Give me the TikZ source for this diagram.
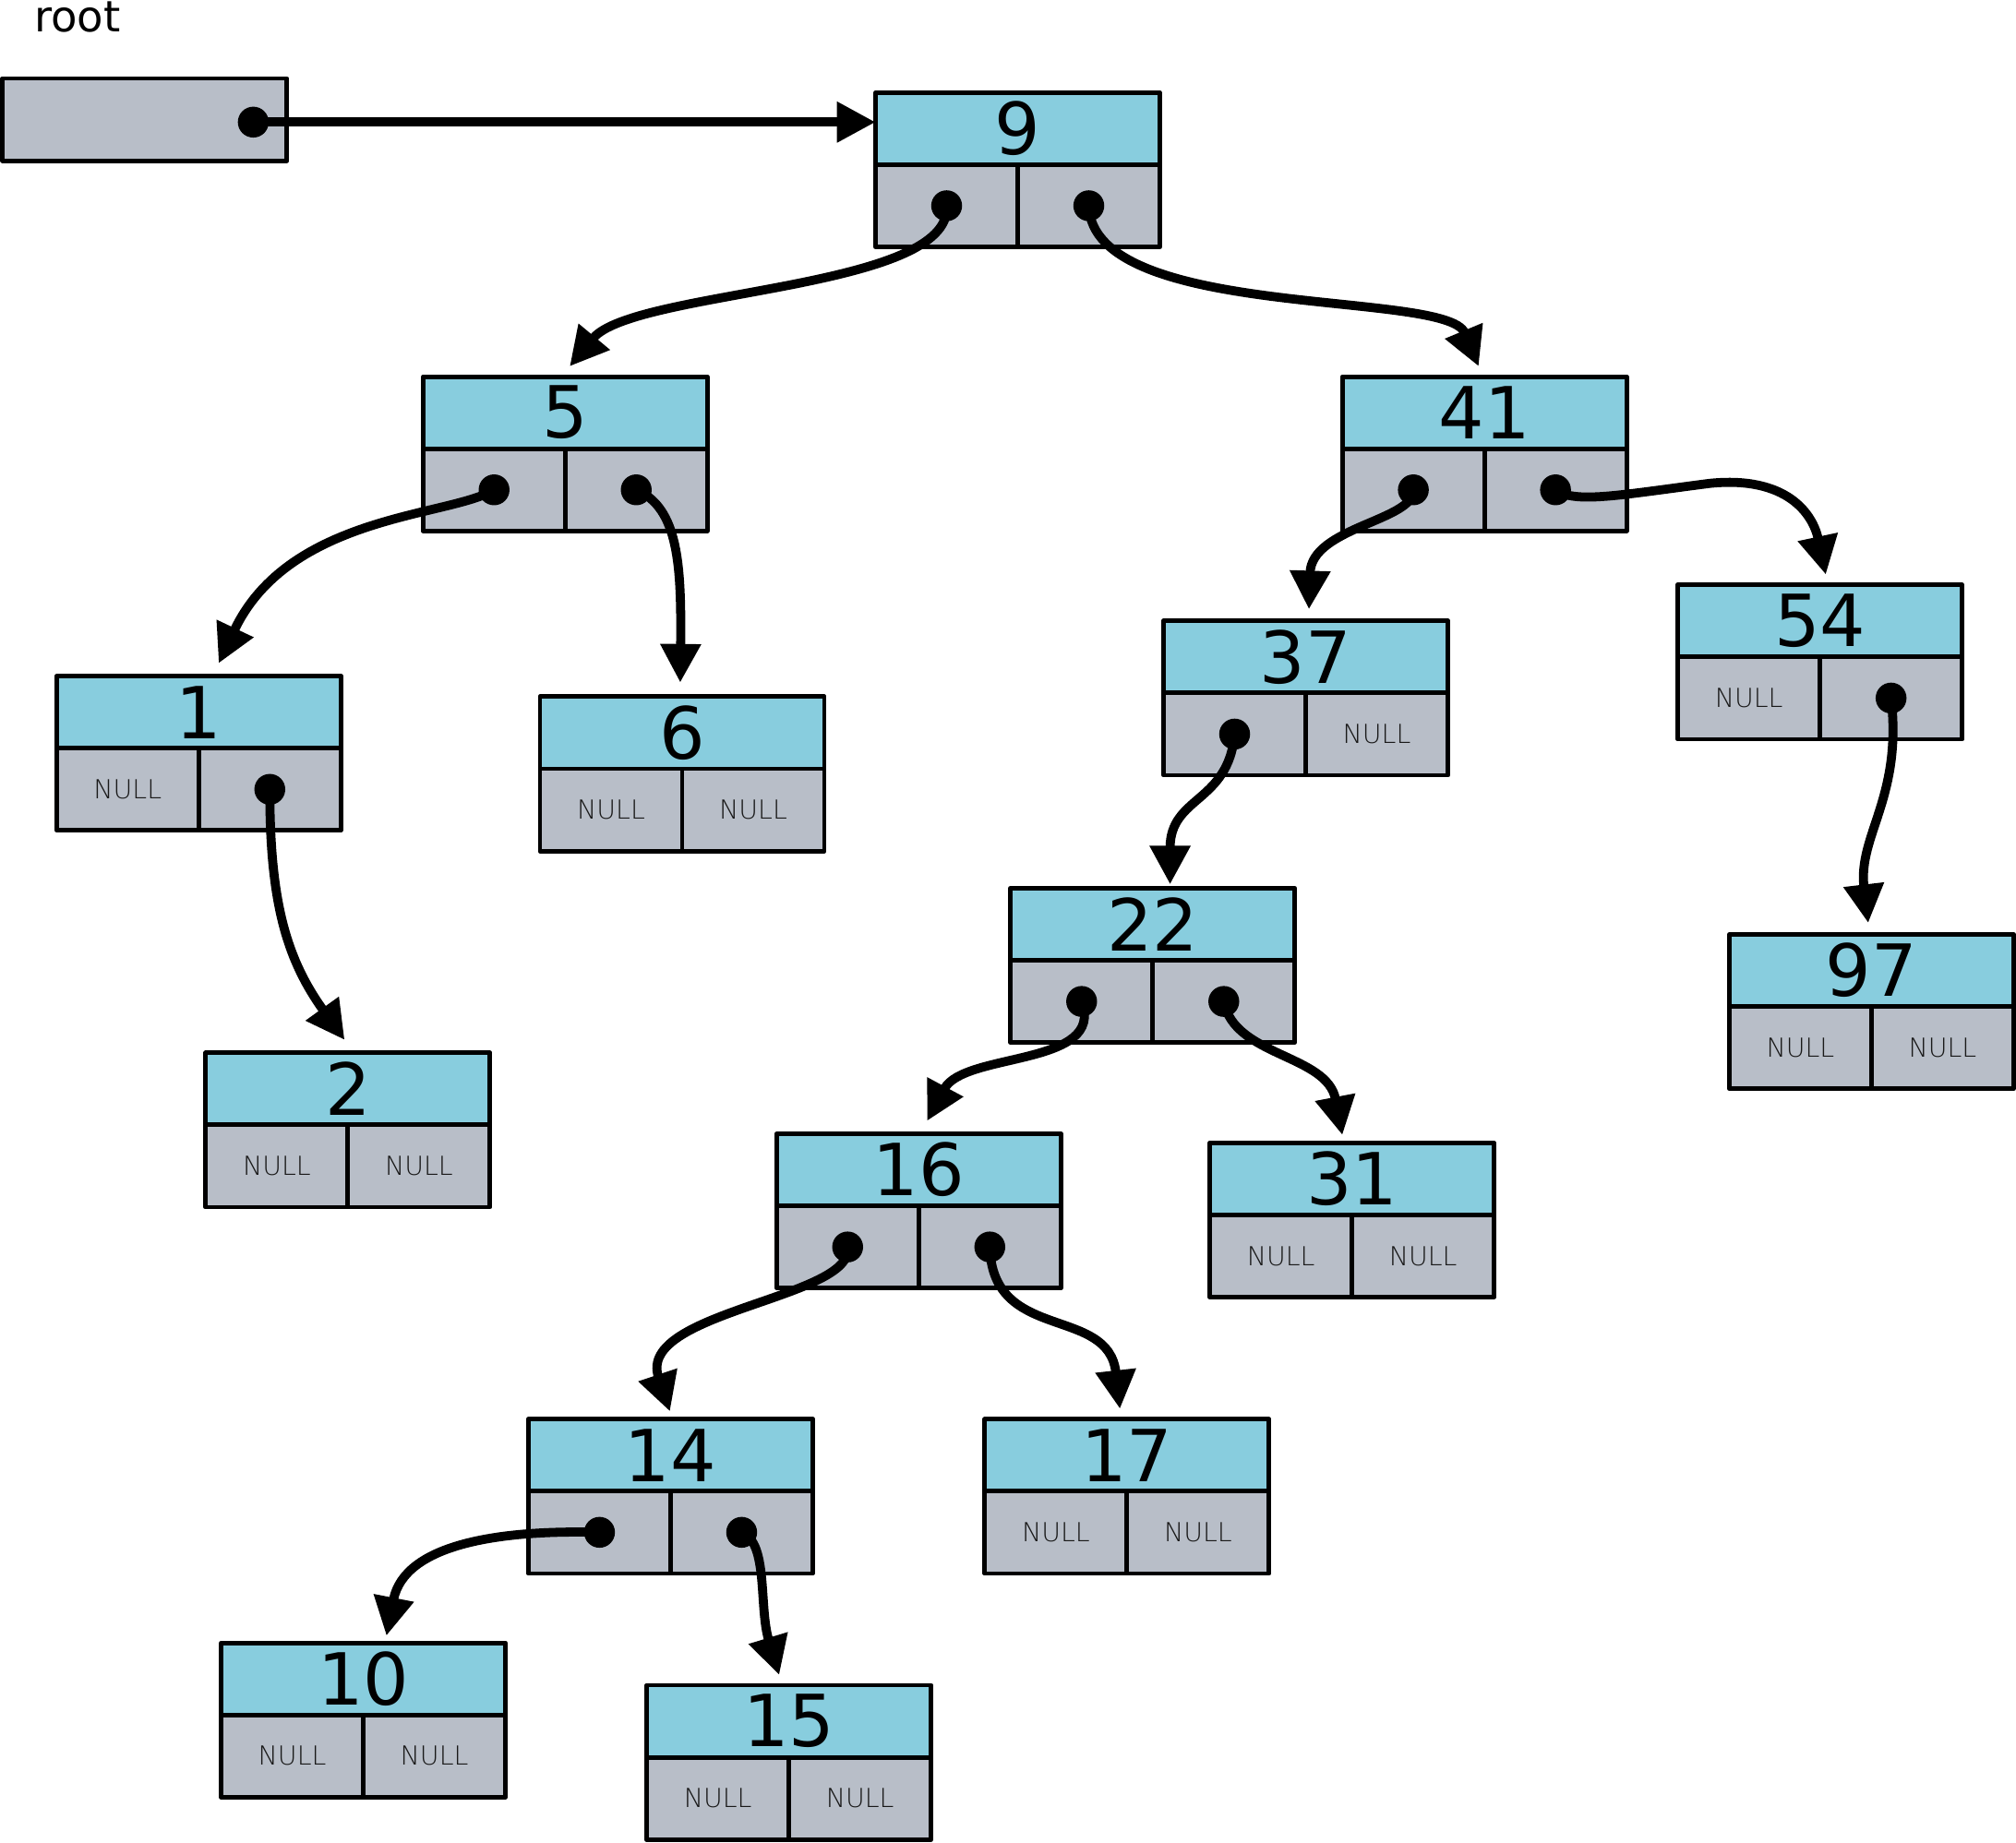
\documentclass[tikz,border=0pt]{standalone}
\usepackage{fontspec}
\setmainfont{DejaVu Sans}
\IfFontExistsTF{DejaVu Sans ExtraLight}
  {\newfontfamily\thinfont{DejaVu Sans ExtraLight}}
  {\newfontfamily\thinfont{DejaVu Sans}}
\usetikzlibrary{arrows.meta}
\definecolor{keyblue}{RGB}{136,205,222}
\definecolor{cellgray}{RGB}{184,190,200}

\begin{document}
\begin{tikzpicture}[x=0.01cm, y=-0.01cm,
  keybox/.style = {draw, fill=keyblue, line width=1pt, line join=round, inner sep=0, outer sep=0, minimum width=2.21cm, minimum height=0.56cm, anchor=north west, font=\fontsize{15.9}{19}\selectfont},
  cell/.style = {draw, fill=cellgray, line width=1pt, line join=round, inner sep=0, outer sep=0, minimum width=1.105cm, minimum height=0.64cm},
  nulltext/.style = {inner sep=0, text=black!90, font=\thinfont\fontsize{5.8}{7}\selectfont},
  dot/.style = {circle, fill=black, inner sep=0, minimum size=0.24cm},
  ptr/.style = {line width=2pt, -{Triangle[length=3mm, width=3mm]}}]
\useasboundingbox (0,0) rectangle (1568,1433.7);

\node[anchor=base west, inner sep=0, font=\fontsize{9.5}{11}\selectfont] (rootlabel) at (26,25) {root};
\node[cell, minimum width=2.21cm, anchor=north west] (rootbox) at (2,61) {};

\foreach \n/\x/\y in {9/681/72, 5/329/293, 41/1044/293, 1/44/526, 6/420/542, 37/905/483, 54/1305/455, 2/160/819, 22/786/691, 97/1345/727, 16/604/882, 31/941/889, 14/411/1104, 17/766/1104, 10/172/1278, 15/503/1311} {
  \node[keybox] (k\n) at (\x,\y) {\n};
  \node[cell, anchor=north west] (l\n) at (k\n.south west) {};
  \node[cell, anchor=north east] (r\n) at (k\n.south east) {};
}

\foreach \c in {l1, l6, r6, r37, l54, l2, r2, l97, r97, l31, r31, l17, r17, l10, r10, l15, r15}
  \node[nulltext] (x\c) at (\c) {NULL};

\node[dot] (proot) at (197,95) {};
\foreach \c in {l9, r9, l5, r5, l41, r41, r1, l37, r54, l22, r22, l16, r16, l14, r14}
  \node[dot] (p\c) at (\c) {};

\draw[ptr] (proot.center) -- (proot.center -| k9.west);
\draw[ptr] (pl9.center) .. controls +(5,66) and +(50,-60) .. ([shift={(3.5,-8)}]k5.north);
\draw[ptr] (pr9.center) .. controls +(3,90) and +(-25,-60) .. ([shift={(-4.5,-8)}]k41.north);
\draw[ptr] (pl5.center) .. controls +(-34,21) and +(55,-116) .. ([shift={(15.5,-10)}]k1.north);
\draw[ptr] (pr5.center) .. controls +(33,14) and +(1,-91) .. ([shift={(-1.5,-11)}]k6.north);
\draw[ptr] (pl41.center) .. controls +(1,24) and +(2,-64) .. ([shift={(2.5,-9)}]k37.north);
\draw[ptr] (pr41.center) .. controls +(15,11) and +(-70,9) .. (1330,376) .. controls +(60,-6) and +(-10,-47) .. ([shift={(4.5,-8)}]k54.north);
\draw[ptr] (pr1.center) .. controls +(0,86) and +(-46,-64) .. ([shift={(-2.5,-10)}]k2.north);
\draw[ptr] (pl37.center) .. controls +(-5,54) and +(0,-69) .. ([shift={(13.5,-3)}]k22.north);
\draw[ptr] (pr54.center) .. controls +(9,77) and +(-8,-68) .. ([shift={(-2.5,-9)}]k97.north);
\draw[ptr] (pl22.center) .. controls +(19,51) and +(29,-54) .. ([shift={(6.5,-10)}]k16.north);
\draw[ptr] (pr22.center) .. controls +(8,43) and +(-12,-63) .. ([shift={(-7.5,-6)}]k31.north);
\draw[ptr] (pl16.center) .. controls +(6,40) and +(-26,-78) .. ([shift={(-0.5,-6)}]k14.north);
\draw[ptr] (pr16.center) .. controls +(2,75) and +(-9,-81) .. ([shift={(-5.5,-8)}]k17.north);
\draw[ptr] (pl14.center) .. controls +(-76,-2) and +(14,-72) .. ([shift={(18,-5.5)}]k10.north);
\draw[ptr] (pr14.center) .. controls +(21,8) and +(-16,-53) .. ([shift={(-7.5,-8)}]k15.north);
\end{tikzpicture}
\end{document}
